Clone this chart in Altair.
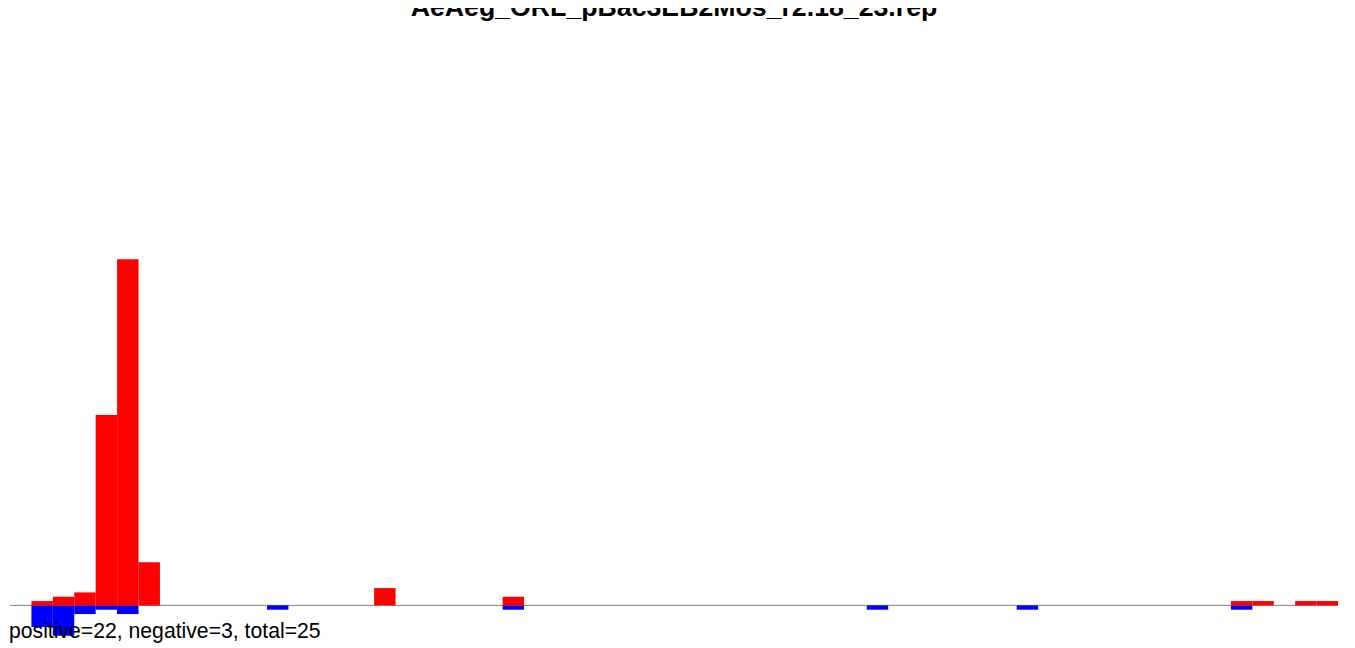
import altair as alt
import pandas as pd

TITLE = "AeAeg_ORL_pBac3EB2Mos_r2.18_23.rep"
SUMMARY = "positive=22, negative=3, total=25"
N_BINS = 62

# positive (red) histogram: bin index -> count
pos_bins = [1, 2, 3, 4, 5, 6, 17, 23, 57, 58, 60, 61]
pos_counts = [1, 2, 3, 44, 80, 10, 4, 2, 1, 1, 1, 1]
# negative (blue) histogram: bin index -> count (drawn downward)
neg_bins = [1, 2, 3, 4, 5, 12, 23, 40, 47, 57]
neg_counts = [5, 7, 2, 1, 2, 1, 1, 1, 1, 1]

pos_df = pd.DataFrame({"bin": pos_bins, "count": pos_counts})
neg_df = pd.DataFrame({"bin": neg_bins, "count": neg_counts})

W, H = 1328, 610
xs = alt.Scale(domain=[0, N_BINS], nice=False, zero=False)
ys = alt.Scale(domain=[-8, 133], nice=False, zero=False)

rule = alt.Chart(pd.DataFrame({"a": [0], "b": [N_BINS], "y": [0]})).mark_rule(
    color="#808080", strokeWidth=1
).encode(
    x=alt.X("a:Q", scale=xs, axis=None),
    x2="b:Q",
    y=alt.Y("y:Q", scale=ys, axis=None),
)

neg = alt.Chart(neg_df).transform_calculate(
    b2="datum.bin + 1", low="-datum.count", zero="0"
).mark_rect(color="#0000ff").encode(
    x=alt.X("bin:Q", scale=xs, axis=None),
    x2="b2:Q",
    y=alt.Y("zero:Q", scale=ys, axis=None),
    y2="low:Q",
)

pos = alt.Chart(pos_df).transform_calculate(
    b2="datum.bin + 1", zero="0"
).mark_rect(color="#ff0000").encode(
    x=alt.X("bin:Q", scale=xs, axis=None),
    x2="b2:Q",
    y=alt.Y("zero:Q", scale=ys, axis=None),
    y2="count:Q",
)

txt = alt.Chart(pd.DataFrame({"label": [SUMMARY]})).mark_text(
    align="left", baseline="alphabetic", font="Liberation Sans",
    fontSize=21.2, color="#000000"
).encode(
    x=alt.value(-1),
    y=alt.value(607.7),
    text="label:N",
)

title = alt.Chart(pd.DataFrame({"label": [TITLE]})).mark_text(
    align="center", baseline="alphabetic", font="Liberation Sans",
    fontSize=26.7, fontWeight="bold", color="#000000"
).encode(
    x=alt.value(W / 2),
    y=alt.value(-14.5),
    text="label:N",
)

chart = alt.layer(rule, neg, pos, txt, title).properties(
    width=W,
    height=H,
    padding={"left": 2, "top": 22, "right": 2, "bottom": 8},
    autosize="none",
).configure_view(stroke=None)

chart.save("out.html", embed_options={"renderer": "svg", "actions": False})
